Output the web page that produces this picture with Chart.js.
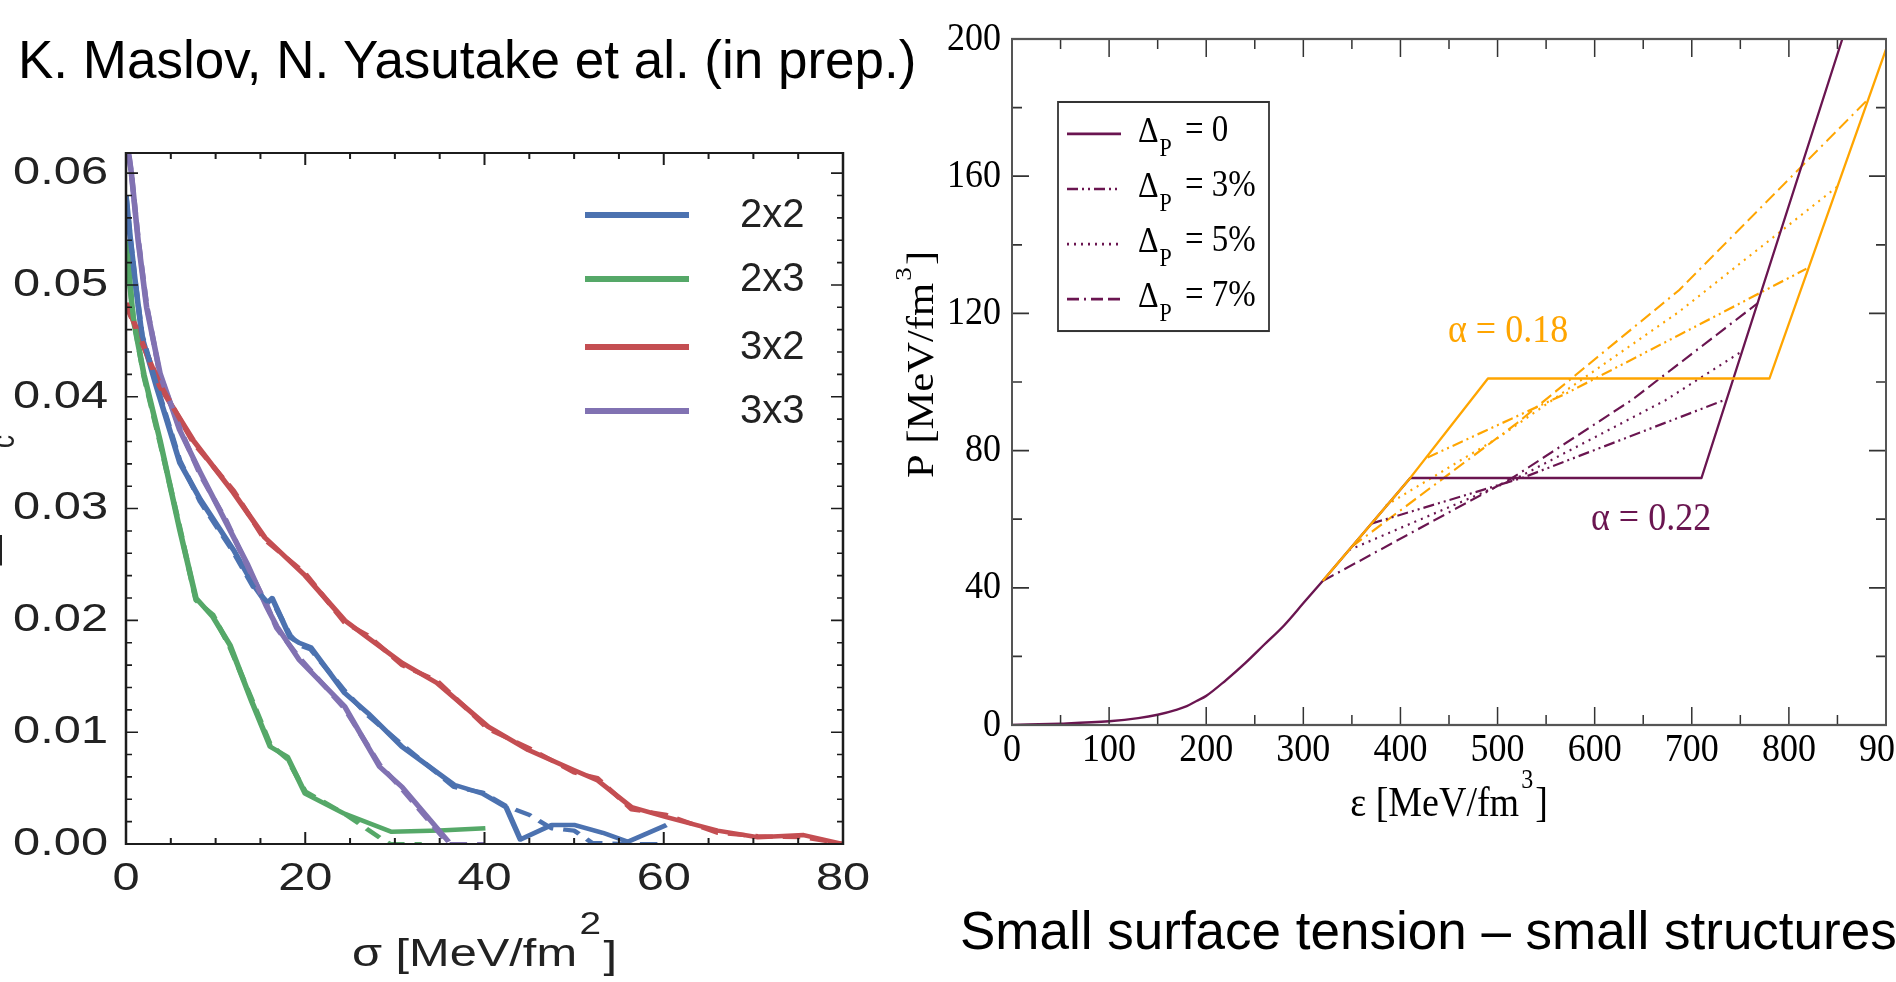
<!DOCTYPE html>
<html>
<head>
<meta charset="utf-8">
<title>Surface tension and pasta structures</title>
<script src="https://cdn.jsdelivr.net/npm/chart.js@4.4.1/dist/chart.umd.min.js"></script>
<style>
  html, body { margin:0; padding:0; background:#ffffff; }
  body { width:1896px; height:982px; position:relative; overflow:hidden; }
  canvas { position:absolute; top:0; }
  #cL { left:0; width:900px; height:982px; }
  #cR { left:860px; width:1036px; height:982px; }
  .slide { position:absolute; font-family:'Liberation Sans', Arial, sans-serif; font-size:53px; line-height:53px; color:#000; white-space:nowrap; }
  #hdr { left:18px; top:33px; }
  #cap { left:960px; top:904px; }
</style>
</head>
<body>
<div class="slide" id="hdr">K. Maslov, N. Yasutake et al. (in prep.)</div>
<div class="slide" id="cap">Small surface tension – small structures</div>
<canvas id="cL" width="900" height="982"></canvas>
<canvas id="cR" width="1036" height="982"></canvas>
<script>
// ================= LEFT PANEL DATA (sigma [MeV/fm^2]) =================
const sigmaTicks = [0, 20, 40, 60, 80];
const leftYTicks = [0, 0.01, 0.02, 0.03, 0.04, 0.05, 0.06];
const leftSeriesNames = ['2x2', '2x3', '3x2', '3x3'];

const sig2x2 = [0, 0.5, 1, 1.8, 3.4, 6.0, 8.3, 12.0, 14.2, 15.7, 16.3, 18.3, 19.3, 20.6, 24.4, 27.0, 30.8, 36.6, 39.8, 42.4, 44.0, 47.5, 50.0, 53.2, 56.0, 60.3];
const val2x2 = [0.058, 0.054, 0.0505, 0.0453, 0.0409, 0.0341, 0.0308, 0.0263, 0.0232, 0.0215, 0.0220, 0.0185, 0.0180, 0.0176, 0.0135, 0.0117, 0.0087, 0.0053, 0.0045, 0.0033, 0.0004, 0.0017, 0.0017, 0.0010, 0.0002, 0.0017];
const sig2x2d = [0, 0.5, 1, 1.8, 3.4, 6.0, 8.3, 12.0, 14.2, 15.7, 16.3, 18.3, 19.3, 20.6, 24.4, 27.0, 30.8, 36.6, 39.8, 42.4, 45.0, 47.5, 50.0, 52.0, 56.0, 60.0];
const val2x2d = [0.058, 0.054, 0.0505, 0.0455, 0.0411, 0.0343, 0.0306, 0.0261, 0.0230, 0.0217, 0.0218, 0.0187, 0.0178, 0.0174, 0.0137, 0.0115, 0.0089, 0.0051, 0.0046, 0.0034, 0.0026, 0.0014, 0.0012, 0.0001, 0.0, 0.0];

const sig2x3 = [0, 0.8, 2.0, 3.8, 6.0, 7.8, 9.7, 11.6, 14.0, 16.1, 18.0, 20.0, 24.4, 29.6, 35.0, 40.1];
const val2x3 = [0.0539, 0.047, 0.042, 0.0361, 0.0281, 0.0220, 0.0203, 0.0178, 0.0128, 0.0087, 0.0078, 0.0045, 0.0027, 0.0011, 0.0012, 0.0014];
const sig2x3d = [0, 0.8, 2.0, 3.8, 6.0, 7.8, 9.7, 11.6, 14.0, 16.1, 18.0, 20.0, 24.4, 28.8, 29.5, 33.0];
const val2x3d = [0.0539, 0.0472, 0.0418, 0.0359, 0.0283, 0.0218, 0.0205, 0.0176, 0.0130, 0.0089, 0.0076, 0.0047, 0.0027, 0.0003, 0.0, 0.0];

const sig3x2 = [0, 3.8, 7.5, 12.0, 15.5, 20.0, 24.4, 26.9, 30.8, 34.7, 40.4, 44.9, 50.0, 52.6, 56.4, 60.3, 66.0, 70.5, 75.6, 80.0];
const val3x2 = [0.0484, 0.0409, 0.0361, 0.0314, 0.0274, 0.0240, 0.0200, 0.0185, 0.0162, 0.0144, 0.0105, 0.0084, 0.0066, 0.0057, 0.0033, 0.0024, 0.0012, 0.0006, 0.0008, 0.0];
const sig3x2d = [0, 3.8, 7.5, 12.0, 15.5, 20.0, 24.4, 26.9, 30.8, 34.7, 40.4, 44.9, 50.0, 52.6, 56.4, 60.3, 66.0, 70.5, 75.6, 80.0];
const val3x2d = [0.0482, 0.0411, 0.0359, 0.0316, 0.0272, 0.0242, 0.0198, 0.0187, 0.0160, 0.0146, 0.0103, 0.0086, 0.0064, 0.0059, 0.0031, 0.0026, 0.0010, 0.0007, 0.0006, 0.0];

const sig3x3 = [0, 0.6, 1.35, 2.3, 3.8, 6.0, 8.3, 11.2, 13.5, 15.7, 16.8, 19.3, 24.4, 28.3, 30.8, 36.0];
const val3x3 = [0.0635, 0.060, 0.054, 0.048, 0.0421, 0.037, 0.0332, 0.0287, 0.0251, 0.0212, 0.0195, 0.0165, 0.0123, 0.0069, 0.0051, 0.0002];
const sig3x3d = [0, 0.6, 1.35, 2.3, 3.8, 6.0, 8.3, 11.2, 13.5, 15.7, 16.8, 19.3, 24.4, 28.3, 30.8, 36.0, 40.0];
const val3x3d = [0.0635, 0.060, 0.0542, 0.0482, 0.0419, 0.0372, 0.0330, 0.0289, 0.0249, 0.0214, 0.0193, 0.0167, 0.0121, 0.0071, 0.0049, 0.0, 0.0];

// ================= RIGHT PANEL DATA (epsilon, P) =================
const epsTicks = [0, 100, 200, 300, 400, 500, 600, 700, 800, 900];
const pTicks = [0, 40, 80, 120, 160, 200];
const epsLow = [0, 50, 100, 130, 150, 170, 180, 190, 200, 220, 240, 260, 280, 300, 320];
const pLow   = [0, 0.4, 1.1, 2.0, 3.0, 4.5, 5.5, 7.0, 8.5, 13.0, 18.0, 23.5, 29.0, 35.5, 42.0];
// alpha = 0.22, Delta_P = 0 (continuation of the low-density curve)
const eps022 = [410, 710, 855];
const p022   = [72, 72, 200];
// alpha = 0.18, Delta_P = 0
const eps018 = [320, 410, 490, 780, 900];
const p018   = [42, 72, 101, 101, 197];
// alpha = 0.22 with Delta_P = 3%, 5%, 7%
const eps022d3 = [370, 525, 736];        const p022d3 = [58.7, 72, 95];
const eps022d5 = [347, 520, 673, 752];   const p022d5 = [51, 72, 94.7, 109];
const eps022d7 = [320, 515, 638, 768];   const p022d7 = [42, 72, 94.7, 123];
// alpha = 0.18 with Delta_P = 3%, 5%, 7%
const eps018d3 = [428, 571, 687, 818];   const p018d3 = [78, 96.7, 113.7, 133];
const eps018d5 = [385, 502, 687, 850];   const p018d5 = [64, 84, 120.5, 157];
const eps018d7 = [350, 520, 687, 880];   const p018d7 = [52, 88, 126.8, 182];
const deltaLabels = ['0', '3%', '5%', '7%'];
const alphaLabels = ['α = 0.18', 'α = 0.22'];

// ================= helpers / styles =================
const FS = "'Liberation Sans', Arial, sans-serif";
const FT = "'Liberation Serif', 'Times New Roman', serif";
const leftColors = ['#4C72B0', '#55A868', '#C44E52', '#8172B2'];
const MAROON = '#6A1550';
const ORANGE = '#FFA500';
const dashPat = [[], [11, 4, 2, 4, 2, 4], [2, 5], [12, 5, 2, 5, 12, 5]];
function pts(xs, ys) { return xs.map((x, i) => ({ x: x, y: ys[i] })); }

// ================= LEFT CHART =================
const SXL = 1.25; // horizontal stretch of the left figure
const leftSolid = [[sig2x2, val2x2], [sig2x3, val2x3], [sig3x2, val3x2], [sig3x3, val3x3]];
const leftDashed = [[sig2x2d, val2x2d], [sig2x3d, val2x3d], [sig3x2d, val3x2d], [sig3x3d, val3x3d]];
const lineBase = { showLine: true, pointRadius: 0, fill: false, tension: 0, borderJoinStyle: 'round' };
const leftDatasets = [];
[0, 1, 2, 3].forEach(i => leftDatasets.push(Object.assign({}, lineBase, {
  label: leftSeriesNames[i] + ' fit', data: pts(leftDashed[i][0], leftDashed[i][1]),
  borderColor: leftColors[i], borderWidth: 4.2, borderDash: [14, 8]
})));
[3, 2, 1, 0].forEach(i => leftDatasets.push(Object.assign({}, lineBase, {
  label: leftSeriesNames[i], data: pts(leftSolid[i][0], leftSolid[i][1]),
  borderColor: leftColors[i], borderWidth: 4.5
})));

const leftDeco = {
  id: 'leftDeco',
  beforeDraw(chart) { const c = chart.ctx; c.save(); c.scale(SXL, 1); },
  afterDraw(chart) {
    const c = chart.ctx, a = chart.chartArea, xs = chart.scales.x, ys = chart.scales.y;
    c.save();
    c.strokeStyle = '#1c1c1c';
    c.lineWidth = 1.6;
    c.beginPath();
    for (let v = 0; v <= 80; v += 5) {
      const px = xs.getPixelForValue(v);
      const len = (v % 20 === 0) ? 12 : 6;
      c.moveTo(px, a.bottom); c.lineTo(px, a.bottom - len);
      c.moveTo(px, a.top); c.lineTo(px, a.top + len);
    }
    for (let k = 0; k <= 30; k++) {
      const v = k * 0.002;
      const py = ys.getPixelForValue(v);
      const len = (k % 5 === 0) ? 12 / SXL : 6 / SXL;
      c.moveTo(a.left, py); c.lineTo(a.left + len, py);
      c.moveTo(a.right, py); c.lineTo(a.right - len, py);
    }
    c.stroke();
    c.lineWidth = 2;
    c.strokeRect(a.left, a.top, a.right - a.left, a.bottom - a.top);

    // legend (text is not stretched in the original)
    const rowsY = [215, 279, 347, 411];
    leftSeriesNames.forEach((name, i) => {
      c.strokeStyle = leftColors[i]; c.lineWidth = 6; c.lineCap = 'butt';
      c.beginPath(); c.moveTo(585 / SXL, rowsY[i]); c.lineTo(689 / SXL, rowsY[i]); c.stroke();
      c.save(); c.scale(1 / SXL, 1);
      c.fillStyle = '#222'; c.font = '40px ' + FS; c.textAlign = 'left'; c.textBaseline = 'middle';
      c.fillText(name, 740, rowsY[i] + 1);
      c.restore();
    });

    // x axis title with superscript
    c.fillStyle = '#222'; c.textBaseline = 'alphabetic'; c.textAlign = 'left';
    c.font = '39px ' + FS;
    const t1 = 'σ [MeV/fm', t3 = ']';
    const w1 = c.measureText(t1).width, w3 = c.measureText(t3).width;
    c.font = '31px ' + FS; const w2 = c.measureText('2').width;
    const total = w1 + w2 + w3 + 4;
    const x0 = ((a.left + a.right) / 2) - total / 2;
    c.font = '39px ' + FS; c.fillText(t1, x0, 966);
    c.font = '31px ' + FS; c.fillText('2', x0 + w1 + 2, 934);
    c.font = '39px ' + FS; c.fillText(t3, x0 + w1 + w2 + 4, 968);

    // y axis title (mostly outside the picture)
    c.save();
    c.translate(1.5, 567); c.rotate(-Math.PI / 2);
    c.font = '50px ' + FS; c.fillText('Δ', 0, 0);
    c.font = '26px ' + FS; c.fillText('c', 119, 10);
    c.restore();

    c.restore();
    c.restore(); // matches beforeDraw
  }
};

new Chart(document.getElementById('cL'), {
  type: 'scatter',
  data: { datasets: leftDatasets },
  options: {
    responsive: false, animation: false, devicePixelRatio: 1, events: [],
    layout: { padding: { left: 0, top: 153, right: 900 - 843 / SXL, bottom: 0 } },
    plugins: { legend: { display: false }, tooltip: { enabled: false }, title: { display: false } },
    scales: {
      x: {
        type: 'linear', min: 0, max: 80,
        grid: { display: false, drawTicks: false }, border: { display: false },
        ticks: { autoSkip: false, maxRotation: 0, padding: 12, color: '#222', font: { family: FS, size: 39 } },
        afterBuildTicks: s => { s.ticks = sigmaTicks.map(v => ({ value: v })); },
        afterFit: s => { s.height = 982 - 844; s.paddingLeft = 0; s.paddingRight = 0; }
      },
      y: {
        type: 'linear', min: 0, max: 0.0618,
        grid: { display: false, drawTicks: false }, border: { display: false },
        ticks: { padding: 14.4, color: '#222', font: { family: FS, size: 39 }, callback: v => v.toFixed(2) },
        afterBuildTicks: s => { s.ticks = leftYTicks.map(v => ({ value: v })); },
        afterFit: s => { s.width = 126 / SXL; s.paddingTop = 0; s.paddingBottom = 0; }
      }
    }
  },
  plugins: [leftDeco]
});

// ================= RIGHT CHART =================
const SYR = 1.12; // vertical stretch of the right figure
const rightDatasets = [
  Object.assign({}, lineBase, { label: 'α=0.18, Δ=0', data: pts(eps018, p018), borderColor: ORANGE, borderWidth: 2.2 }),
  Object.assign({}, lineBase, { label: 'low-density branch', data: pts(epsLow, pLow), borderColor: MAROON, borderWidth: 2.2, cubicInterpolationMode: 'monotone' }),
  Object.assign({}, lineBase, { label: 'α=0.22, Δ=0', data: pts(epsLow.slice(-1).concat(eps022), pLow.slice(-1).concat(p022)), borderColor: MAROON, borderWidth: 2.2 }),
  Object.assign({}, lineBase, { label: 'α=0.22, Δ=3%', data: pts(eps022d3, p022d3), borderColor: MAROON, borderWidth: 2, borderDash: dashPat[1] }),
  Object.assign({}, lineBase, { label: 'α=0.22, Δ=5%', data: pts(eps022d5, p022d5), borderColor: MAROON, borderWidth: 2, borderDash: dashPat[2] }),
  Object.assign({}, lineBase, { label: 'α=0.22, Δ=7%', data: pts(eps022d7, p022d7), borderColor: MAROON, borderWidth: 2, borderDash: dashPat[3] }),
  Object.assign({}, lineBase, { label: 'α=0.18, Δ=3%', data: pts(eps018d3, p018d3), borderColor: ORANGE, borderWidth: 2, borderDash: dashPat[1] }),
  Object.assign({}, lineBase, { label: 'α=0.18, Δ=5%', data: pts(eps018d5, p018d5), borderColor: ORANGE, borderWidth: 2, borderDash: dashPat[2] }),
  Object.assign({}, lineBase, { label: 'α=0.18, Δ=7%', data: pts(eps018d7, p018d7), borderColor: ORANGE, borderWidth: 2, borderDash: dashPat[3] })
];

const rightDeco = {
  id: 'rightDeco',
  beforeDraw(chart) { const c = chart.ctx; c.save(); c.scale(1, SYR); },
  afterDraw(chart) {
    const c = chart.ctx, a = chart.chartArea, xs = chart.scales.x, ys = chart.scales.y;
    c.save();
    // ticks
    c.strokeStyle = '#333'; c.lineWidth = 1.5;
    c.beginPath();
    for (let v = 0; v <= 900; v += 50) {
      const px = xs.getPixelForValue(v);
      const len = (v % 100 === 0) ? 16 : 9;
      c.moveTo(px, a.bottom); c.lineTo(px, a.bottom - len);
      c.moveTo(px, a.top); c.lineTo(px, a.top + len);
    }
    for (let v = 0; v <= 200; v += 20) {
      const py = ys.getPixelForValue(v);
      const len = (v % 40 === 0) ? 17 : 10;
      c.moveTo(a.left, py); c.lineTo(a.left + len, py);
      c.moveTo(a.right, py); c.lineTo(a.right - len, py);
    }
    c.stroke();
    c.strokeStyle = '#555'; c.lineWidth = 2;
    c.strokeRect(a.left, a.top, a.right - a.left, a.bottom - a.top);

    // legend box
    c.fillStyle = '#fff'; c.fillRect(198, 91.07, 211, 204.5);
    c.strokeStyle = '#333'; c.lineWidth = 1.8; c.strokeRect(198, 91.07, 211, 204.5);
    const rows = [119.6, 168.75, 217.9, 267.0];
    rows.forEach((y, i) => {
      c.save();
      c.strokeStyle = MAROON; c.lineWidth = 2.4; c.setLineDash(dashPat[i]);
      c.beginPath(); c.moveTo(207, y); c.lineTo(261, y); c.stroke();
      c.restore();
      c.fillStyle = '#000'; c.textAlign = 'left'; c.textBaseline = 'alphabetic';
      c.font = '32px ' + FT; c.fillText('Δ', 278, y + 7);
      const wd = c.measureText('Δ').width;
      c.font = '22px ' + FT; c.fillText('P', 278 + wd + 1, y + 20);
      c.font = '33px ' + FT; c.fillText('= ' + deltaLabels[i], 325, y + 6);
    });

    // alpha annotations
    c.font = '36px ' + FT; c.textAlign = 'left'; c.textBaseline = 'alphabetic';
    c.fillStyle = ORANGE; c.fillText(alphaLabels[0], 588, 305.4);
    c.fillStyle = MAROON; c.fillText(alphaLabels[1], 731, 473.2);

    // x axis title
    c.fillStyle = '#000';
    c.font = '38px ' + FT;
    const xt1 = 'ε [MeV/fm', xt3 = ']';
    const xw1 = c.measureText(xt1).width, xw3 = c.measureText(xt3).width;
    c.font = '24px ' + FT; const xw2 = c.measureText('3').width;
    const xtot = xw1 + xw2 + xw3 + 4;
    const xx0 = (a.left + a.right) / 2 - xtot / 2;
    c.font = '38px ' + FT; c.fillText(xt1, xx0, 728.6);
    c.font = '24px ' + FT; c.fillText('3', xx0 + xw1 + 2, 703.6);
    c.font = '38px ' + FT; c.fillText(xt3, xx0 + xw1 + xw2 + 4, 728.6);

    // y axis title (rotated)
    c.save();
    c.translate(73, 426.8); c.rotate(-Math.PI / 2);
    c.font = '38px ' + FT;
    const yt1 = 'P [MeV/fm';
    const yw1 = c.measureText(yt1).width;
    c.fillText(yt1, 0, 0);
    c.font = '24px ' + FT; const yw2 = c.measureText('3').width;
    c.fillText('3', yw1 + 2, -22);
    c.font = '38px ' + FT; c.fillText(']', yw1 + yw2 + 4, 0);
    c.restore();

    c.restore();
    c.restore(); // matches beforeDraw
  }
};

new Chart(document.getElementById('cR'), {
  type: 'scatter',
  data: { datasets: rightDatasets },
  options: {
    responsive: false, animation: false, devicePixelRatio: 1, events: [],
    layout: { padding: { left: 0, top: 39 / SYR, right: 10, bottom: 0 } },
    plugins: { legend: { display: false }, tooltip: { enabled: false }, title: { display: false } },
    scales: {
      x: {
        type: 'linear', min: 0, max: 900,
        grid: { display: false, drawTicks: false }, border: { display: false },
        ticks: { autoSkip: false, maxRotation: 0, padding: 1, color: '#000', font: { family: FT, size: 36 } },
        afterBuildTicks: s => { s.ticks = epsTicks.map(v => ({ value: v })); },
        afterFit: s => { s.height = 982 - 725 / SYR; s.paddingLeft = 0; s.paddingRight = 0; }
      },
      y: {
        type: 'linear', min: 0, max: 200,
        grid: { display: false, drawTicks: false }, border: { display: false },
        ticks: { padding: 11, color: '#000', font: { family: FT, size: 36 } },
        afterBuildTicks: s => { s.ticks = pTicks.map(v => ({ value: v })); },
        afterFit: s => { s.width = 152; s.paddingTop = 0; s.paddingBottom = 0; }
      }
    }
  },
  plugins: [rightDeco]
});
</script>
</body>
</html>
